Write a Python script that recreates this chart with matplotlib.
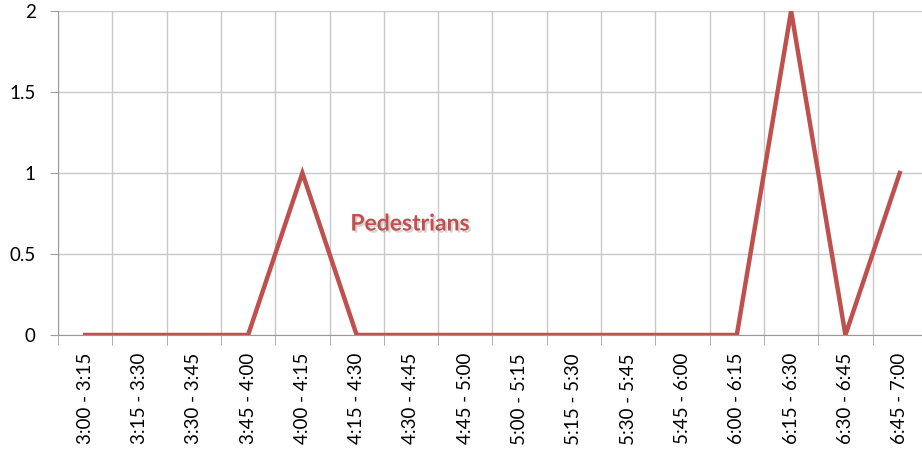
import matplotlib.pyplot as plt
import matplotlib.patheffects as pe
import numpy as np

# Data
intervals = ['3:00 - 3:15', '3:15 - 3:30', '3:30 - 3:45', '3:45 - 4:00',
             '4:00 - 4:15', '4:15 - 4:30', '4:30 - 4:45', '4:45 - 5:00',
             '5:00 - 5:15', '5:15 - 5:30', '5:30 - 5:45', '5:45 - 6:00',
             '6:00 - 6:15', '6:15 - 6:30', '6:30 - 6:45', '6:45 - 7:00']
pedestrians = [0, 0, 0, 0, 1, 0, 0, 0, 0, 0, 0, 0, 0, 2, 0, 1]
y_ticks = [0, 0.5, 1, 1.5, 2]

plt.rcParams['font.family'] = ['Lato', 'DejaVu Sans']

fig = plt.figure(figsize=(9.22, 4.55), dpi=100)
ax = fig.add_axes([58 / 922, 120 / 455, 864 / 922, 324 / 455])

x = np.arange(len(intervals))
ax.plot(x, pedestrians, color='#C0504D', linewidth=3.2, solid_joinstyle='miter')

ax.set_xlim(-0.5, 15.41)
ax.set_ylim(0, 2)
ax.set_yticks(y_ticks)
ax.set_yticklabels(['0', '0.5', '1', '1.5', '2'])
ax.set_xticks(x)
ax.set_xticklabels(intervals, rotation=90)
ax.set_xticks(np.arange(-0.5, 15.5, 1), minor=True)

ax.tick_params(axis='x', which='major', length=0, pad=13, labelsize=13.5)
ax.tick_params(axis='x', which='minor', length=7, color='#A0A0A0')
ax.tick_params(axis='y', length=6, color='#A0A0A0', pad=10, labelsize=13.5)

ax.grid(True, axis='y', color='#C8C8C8', linewidth=1)
ax.grid(True, axis='x', which='minor', color='#C8C8C8', linewidth=1)
ax.set_axisbelow(True)

for s in ['top', 'right']:
    ax.spines[s].set_visible(False)
ax.spines['left'].set_color('#999999')
ax.spines['bottom'].set_color('#999999')

ax.text(5.98, 0.685, 'Pedestrians', color='#C0504D', fontsize=16.5, fontweight='bold',
        ha='center', va='center',
        path_effects=[pe.withSimplePatchShadow(offset=(1.5, -1.5), shadow_rgbFace='#888888', alpha=0.35)])

plt.savefig('out.png', dpi=100)
